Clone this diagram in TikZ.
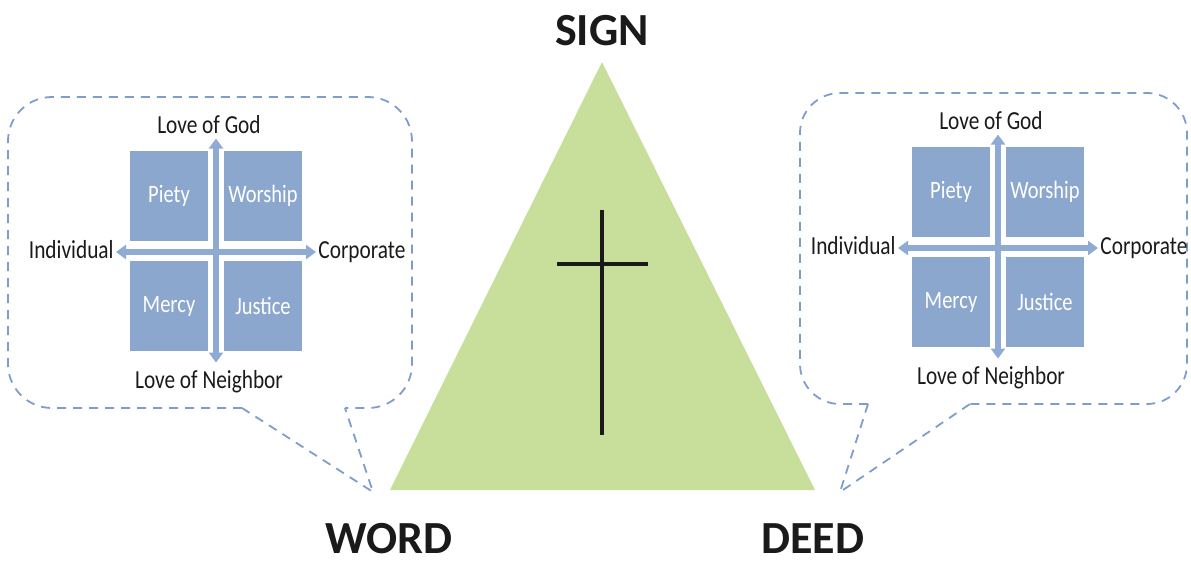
\documentclass[tikz,border=0pt]{standalone}
\usepackage{fontspec}
\setmainfont{Carlito}
\newfontfamily\narrowfont[FakeStretch=0.82]{Carlito}
\usetikzlibrary{arrows.meta}

\definecolor{quadblue}{RGB}{139,167,206}
\definecolor{axisblue}{RGB}{143,171,212}
\definecolor{bubbleblue}{RGB}{126,157,204}
\definecolor{trigreen}{RGB}{200,222,155}
\definecolor{ink}{RGB}{26,26,26}

\tikzset{
  quad/.style={fill=quadblue, text=white, minimum width=39pt, minimum height=45pt,
    inner sep=0pt, font=\narrowfont\fontsize{12.5}{14}\selectfont},
  axislabel/.style={text=ink, inner sep=1pt, font=\narrowfont\fontsize{13}{15}\selectfont},
  axis/.style={axisblue, line width=3pt,
    {Triangle[width=7pt,length=5pt]}-{Triangle[width=7pt,length=5pt]}},
  bubble/.style={bubbleblue, line width=0.9pt, dash pattern=on 4.5pt off 3.5pt},
  corner/.style={text=ink, inner sep=0pt, font=\bfseries\fontsize{23}{27}\selectfont},
}

\begin{document}
\begin{tikzpicture}[x=0.5pt, y=-0.5pt]
  \useasboundingbox (0,0) rectangle (1191,564);

  % triangle with the cross
  \coordinate (apex) at (602,62);
  \coordinate (wordtip) at (390,490);
  \coordinate (deedtip) at (815,490);
  \fill[trigreen] (apex) -- (wordtip) -- (deedtip) -- cycle;
  \draw[ink, line width=1.7pt] (602,210) -- (602,435) (557,264) -- (648,264);

  \node[corner, anchor=base] (sign) at (602,45) {SIGN};
  \node[corner, anchor=base] (word) at (389,553) {WORD};
  \node[corner, anchor=base] (deed) at (813,553) {DEED};

  % callouts
  \draw[bubble, rounded corners=22pt] (242,408) -- (8,408) -- (8,97)
    -- (412,97) -- (412,408) -- (345,408);
  \draw[bubble] (242,408) -- (373,492) -- (345,408);
  \draw[bubble, rounded corners=20pt] (868,404) -- (800,404) -- (800,93)
    -- (1187,93) -- (1187,404) -- (970,404);
  \draw[bubble] (868,404) -- (840,492) -- (970,404);

  % the four quadrants, once per callout
  \foreach \side/\cx/\cy in {W/216/252, D/998/248}{
    \begin{scope}[shift={(\cx,\cy)}, name prefix=\side-]
      \coordinate (c) at (0,0);
      \node[quad] (piety) at (-47,-56) {Piety};
      \node[quad] (worship) at (47,-56) {Worship};
      \node[quad] (mercy) at (-47,54) {Mercy};
      \node[quad] (justice) at (47,54) {Justice};
      \node[axislabel, anchor=base] (god) at (-7,-119) {Love of God};
      \node[axislabel, anchor=base] (nbr) at (-7,136) {Love of Neighbor};
      \node[axislabel, anchor=base east] (indiv) at (-100,6) {Individual};
      \node[axislabel, anchor=base west] (corp) at (100,6) {Corporate};
      \draw[axis, shorten <=1.5pt, shorten >=2.5pt] (god.south -| c) -- (nbr.north -| c);
      \draw[axis] (indiv.east |- c) -- (corp.west |- c);
    \end{scope}
  }
\end{tikzpicture}
\end{document}
